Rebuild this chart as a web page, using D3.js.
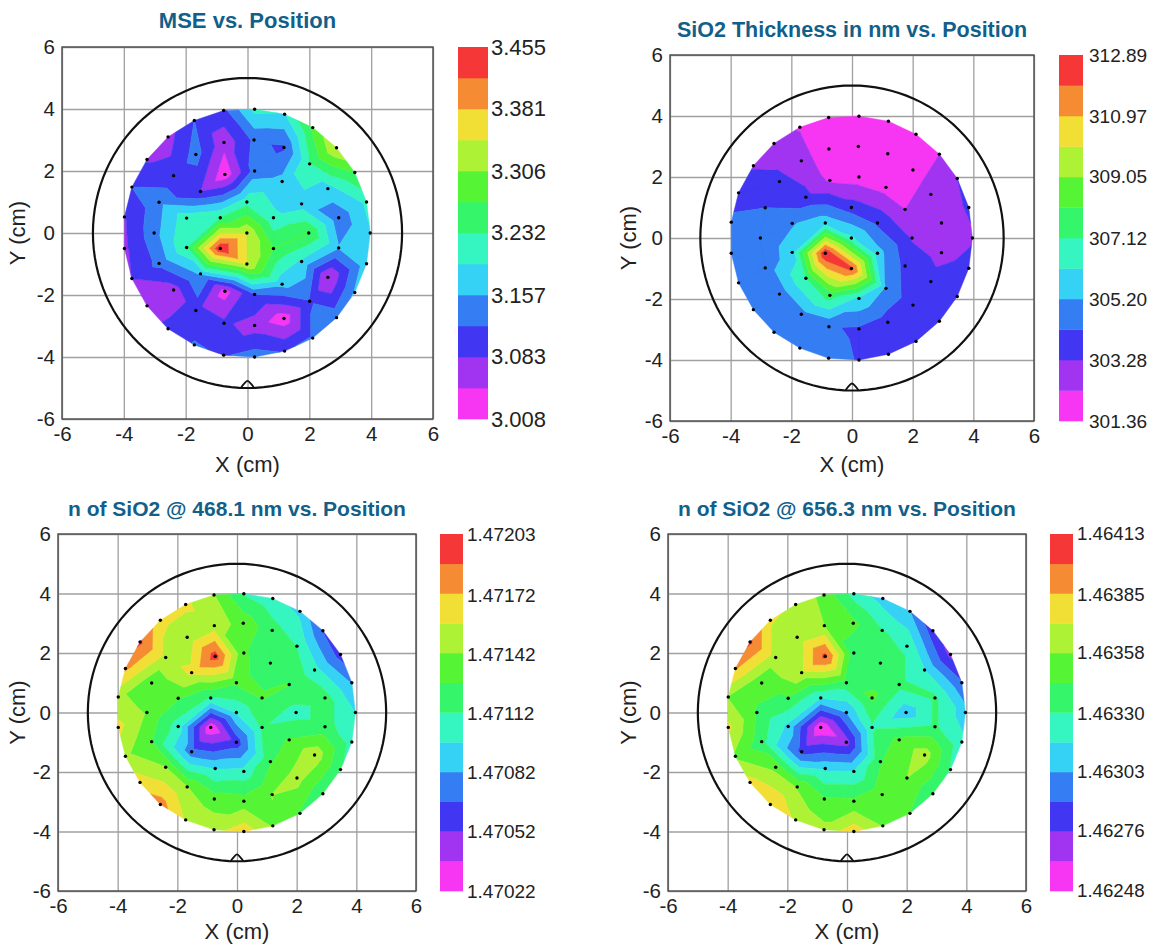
<!DOCTYPE html>
<html><head><meta charset="utf-8">
<script src="https://cdn.jsdelivr.net/npm/d3@7"></script>
<style>
html,body{margin:0;padding:0;background:#fff}
svg{display:block}
text{font-family:"Liberation Sans",Arial,sans-serif;fill:#222}
</style></head><body>
<svg id="c" width="1164" height="945"></svg>
<script>
const siteX = [0.23,-0.77,-1.72,-2.57,-3.25,-3.74,-3.98,-3.98,-3.74,-3.25,-2.57,-1.72,-0.77,0.23,1.2,2.11,2.88,3.47,3.85,3.97,3.85,3.47,2.88,2.11,1.2,
 0.21,-0.76,-1.67,-2.39,-2.86,-3.02,-2.86,-2.39,-1.67,-0.76,0.23,1.18,2.01,2.6,2.95,2.95,2.6,2.01,1.18,
 0.23,-0.73,-1.52,-1.97,-1.97,-1.52,-0.73,0.23,1.12,1.75,1.98,1.75,1.12,
 -0.02,-0.88,-0.88,-0.02,0.84,0.84,-0.02];
const siteY = [3.99,3.95,3.63,3.1,2.37,1.48,0.52,-0.5,-1.47,-2.35,-3.09,-3.61,-3.94,-4,-3.81,-3.39,-2.73,-1.92,-0.99,0,1,1.95,2.75,3.4,3.83,
 3,2.92,2.53,1.85,0.99,0,-0.98,-1.84,-2.5,-2.91,-2.98,-2.76,-2.2,-1.43,-0.48,0.49,1.43,2.23,2.76,
 2,1.89,1.34,0.48,-0.47,-1.32,-1.88,-1.98,-1.65,-0.92,0,0.94,1.66,
 1,0.49,-0.5,-1,-0.5,0.49,0];

const mseValues = [3.205,3.109,3.120,3.068,3.079,3.120,3.079,3.075,3.083,3.064,3.090,3.123,3.116,3.138,3.116,3.127,3.142,3.161,3.179,3.191,3.202,3.269,3.343,3.276,3.191,
 3.127,3.056,3.135,3.097,3.146,3.142,3.131,3.064,3.097,3.090,3.064,3.023,3.116,3.042,3.159,3.131,3.179,3.228,3.114,
 3.135,3.019,3.083,3.217,3.228,3.161,3.027,3.120,3.168,3.187,3.269,3.176,3.168,
 3.217,3.232,3.451,3.343,3.269,3.202,3.340];
const thicknessValues = [301.74,301.84,302.27,302.61,303.19,303.86,304.43,304.34,304.34,304.43,304.53,304.53,304.53,304.19,303.86,303.67,303.57,303.57,303.57,303.19,303.38,303.28,302.32,301.84,301.74,
 301.55,301.84,302.61,303.57,304.24,304.53,304.63,304.63,304.82,304.34,304.10,303.76,303.57,303.57,302.99,302.71,302.71,301.94,301.74,
 301.84,302.18,303.57,305.11,305.68,307.12,307.61,305.97,305.11,303.95,303.19,302.32,301.94,
 303.76,305.78,312.89,312.22,305.59,304.05,306.36];
const n468Values = [1.47111,1.47143,1.47161,1.47162,1.47191,1.47176,1.47146,1.47162,1.47146,1.47165,1.47180,1.47156,1.47152,1.47167,1.47141,1.47126,1.47114,1.47114,1.47106,1.47097,1.47081,1.47060,1.47066,1.47094,1.47102,
 1.47137,1.47150,1.47147,1.47153,1.47131,1.47141,1.47128,1.47143,1.47143,1.47135,1.47134,1.47143,1.47149,1.47153,1.47119,1.47119,1.47103,1.47112,1.47119,
 1.47129,1.47195,1.47161,1.47129,1.47105,1.47072,1.47096,1.47102,1.47126,1.47129,1.47106,1.47128,1.47122,
 1.47131,1.47111,1.47024,1.47058,1.47114,1.47129,1.47099];
const n656Values = [1.46325,1.46353,1.46370,1.46373,1.46402,1.46387,1.46357,1.46375,1.46355,1.46377,1.46386,1.46369,1.46362,1.46380,1.46357,1.46344,1.46332,1.46329,1.46320,1.46309,1.46291,1.46271,1.46281,1.46303,1.46311,
 1.46348,1.46358,1.46362,1.46365,1.46347,1.46343,1.46335,1.46354,1.46357,1.46346,1.46347,1.46354,1.46358,1.46365,1.46333,1.46333,1.46317,1.46329,1.46331,
 1.46335,1.46403,1.46369,1.46343,1.46313,1.46284,1.46314,1.46317,1.46343,1.46348,1.46308,1.46335,1.46335,
 1.46339,1.46317,1.46249,1.46269,1.46328,1.46347,1.46303];

const bandColors = ["#f636f2","#a034f0","#4136f2","#357df2","#36d2f5","#35f5c1","#35f56a","#55f536","#aef236","#f2df36","#f58b33","#f63737"];
const axisTicks = [-6,-4,-2,0,2,4,6];

const mseLabels = ["3.008","3.083","3.157","3.232","3.306","3.381","3.455"];
const thicknessLabels = ["301.36","303.28","305.20","307.12","309.05","310.97","312.89"];
const n468Labels = ["1.47022","1.47052","1.47082","1.47112","1.47142","1.47172","1.47203"];
const n656Labels = ["1.46248","1.46276","1.46303","1.46330","1.46358","1.46385","1.46413"];

const titles = ["MSE vs. Position","SiO2 Thickness in nm vs. Position","n of SiO2 @ 468.1 nm vs. Position","n of SiO2 @ 656.3 nm vs. Position"];
const seriesList = [mseValues,thicknessValues,n468Values,n656Values];
const labelList = [mseLabels,thicknessLabels,n468Labels,n656Labels];
const frames = [
 {l:62,r:433,t:47,b:419,cl:458,cr:488,fs:22,pad:3,tfs:22,titleY:28,yTitleX:25,xTitleY:472},
 {l:670,r:1034,t:55,b:421,cl:1059,cr:1083,fs:19,pad:6,tfs:21.5,titleY:37,yTitleX:636,xTitleY:472},
 {l:58,r:416,t:534,b:891,cl:440,cr:463,fs:19,pad:4,tfs:21,titleY:516,yTitleX:25,xTitleY:939},
 {l:668,r:1026,t:534,b:891,cl:1050,cr:1073,fs:18.7,pad:4,tfs:21,titleY:516,yTitleX:636,xTitleY:939}
];

const svg = d3.select("#c");
const delaunay = d3.Delaunay.from(siteX.map((x,i)=>[x,siteY[i]]));
const tris = d3.range(delaunay.triangles.length/3).map(i=>[delaunay.triangles[3*i],delaunay.triangles[3*i+1],delaunay.triangles[3*i+2]]);

function clip(poly, level, keepAbove){
  const out=[];
  for(let i=0;i<poly.length;i++){
    const a=poly[i], b=poly[(i+1)%poly.length];
    const ina = keepAbove ? a[2]>=level : a[2]<=level;
    const inb = keepAbove ? b[2]>=level : b[2]<=level;
    if(ina) out.push(a);
    if(ina!==inb){
      const t=(level-a[2])/(b[2]-a[2]);
      out.push([a[0]+t*(b[0]-a[0]),a[1]+t*(b[1]-a[1]),level]);
    }
  }
  return out;
}

frames.forEach((f,k)=>{
  const vals = seriesList[k], labels = labelList[k];
  const x = d3.scaleLinear().domain([-6,6]).range([f.l,f.r]);
  const y = d3.scaleLinear().domain([-6,6]).range([f.b,f.t]);
  const g = svg.append("g");
  const vMin=+labels[0], vMax=+labels[labels.length-1];
  const levels = d3.range(bandColors.length+1).map(i=>d3.interpolateNumber(vMin,vMax)(i/bandColors.length));
  const barY = d3.scaleLinear().domain([vMin,vMax]).range([f.b,f.t]);

  g.append("g").attr("transform",`translate(0,${f.b})`)
    .call(d3.axisBottom(x).tickValues(axisTicks).tickSize(-(f.b-f.t)).tickFormat(""))
    .call(s=>s.select(".domain").remove())
    .call(s=>s.selectAll("line").attr("stroke","#a0a0a0").attr("stroke-width",1.3));
  g.append("g").attr("transform",`translate(${f.l},0)`)
    .call(d3.axisLeft(y).tickValues(axisTicks).tickSize(-(f.r-f.l)).tickFormat(""))
    .call(s=>s.select(".domain").remove())
    .call(s=>s.selectAll("line").attr("stroke","#a0a0a0").attr("stroke-width",1.3));

  bandColors.forEach((col,b)=>{
    const lo=b===0?-Infinity:levels[b], hi=b===bandColors.length-1?Infinity:levels[b+1];
    let dStr="";
    tris.forEach(t=>{
      let poly=t.map(i=>[siteX[i],siteY[i],vals[i]]);
      if(isFinite(lo)) poly=clip(poly,lo,true);
      if(poly.length&&isFinite(hi)) poly=clip(poly,hi,false);
      if(poly.length>2) dStr+="M"+poly.map(p=>x(p[0]).toFixed(2)+","+y(p[1]).toFixed(2)).join("L")+"Z";
    });
    if(dStr) g.append("path").attr("d",dStr).attr("fill",col).attr("stroke",col).attr("stroke-width",0.5).attr("stroke-linejoin","round");
  });

  g.append("rect").attr("x",f.l).attr("y",f.t).attr("width",f.r-f.l).attr("height",f.b-f.t)
    .attr("fill","none").attr("stroke","#4a4a4a").attr("stroke-width",1.4);

  const waferPts = d3.range(0,361,3).map(a=>[5*Math.cos(a*Math.PI/180),5*Math.sin(a*Math.PI/180)]);
  const line = d3.line().x(d=>x(d[0])).y(d=>y(d[1]));
  g.append("path").attr("d",line(waferPts)).attr("fill","none").attr("stroke","#111").attr("stroke-width",2.2);
  g.append("path").attr("d",d3.line().x(d=>x(d[0])).y(d=>y(d[1])).curve(d3.curveCatmullRom)([[-0.22,-5],[-0.1,-4.85],[0,-4.77],[0.1,-4.85],[0.22,-5]]))
    .attr("fill","none").attr("stroke","#111").attr("stroke-width",1.8);

  g.append("g").selectAll("circle").data(siteX).join("circle")
    .attr("cx",d=>x(d)).attr("cy",(d,i)=>y(siteY[i])).attr("r",1.7).attr("fill","#000");

  const tickStyle = s=>{
    s.select(".domain").remove();
    s.selectAll("line").remove();
    s.selectAll("text").attr("font-size",20.5).style("fill","#222");
  };
  g.append("g").attr("transform",`translate(0,${f.b})`)
    .call(d3.axisBottom(x).tickValues(axisTicks).tickSize(0).tickPadding(7).tickFormat(d=>d<0?"-"+Math.abs(d):d)).call(tickStyle);
  g.append("g").attr("transform",`translate(${f.l},0)`)
    .call(d3.axisLeft(y).tickValues(axisTicks).tickSize(0).tickPadding(7).tickFormat(d=>d<0?"-"+Math.abs(d):d)).call(tickStyle);

  g.append("text").attr("x",x(0)).attr("y",f.xTitleY).attr("text-anchor","middle").attr("font-size",22).text("X (cm)");
  g.append("text").attr("transform",`translate(${f.yTitleX},${y(0)}) rotate(-90)`).attr("text-anchor","middle").attr("font-size",22).text("Y (cm)");
  g.append("text").attr("x",x(0)).attr("y",f.titleY).attr("text-anchor","middle").attr("font-size",f.tfs).attr("font-weight","bold").style("fill","#125f8a").text(titles[k]);

  g.append("g").selectAll("rect").data(bandColors).join("rect")
    .attr("x",f.cl).attr("width",f.cr-f.cl)
    .attr("y",(d,i)=>barY(levels[i+1])).attr("height",(d,i)=>barY(levels[i])-barY(levels[i+1])+0.3)
    .attr("fill",d=>d);
  const barAxis = d3.axisRight(barY).tickValues(labels.map(Number)).tickSize(0).tickPadding(f.pad).tickFormat((d,i)=>labels[i]);
  g.append("g").attr("transform",`translate(${f.cr},0)`).call(barAxis)
    .call(s=>{s.select(".domain").remove();s.selectAll("text").attr("font-size",f.fs).style("fill","#222");});
});
</script>
</body></html>
